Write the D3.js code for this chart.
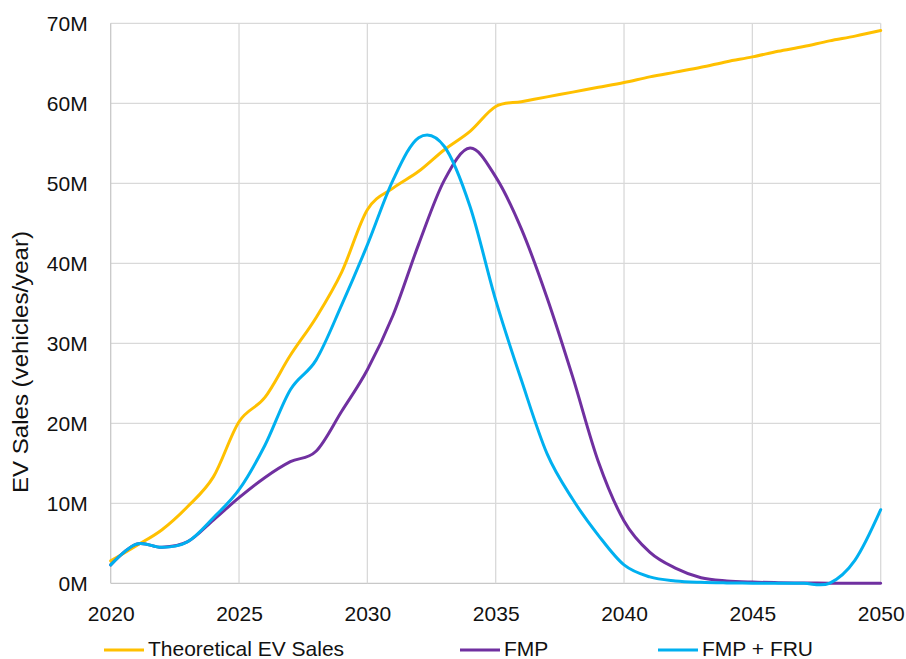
<!DOCTYPE html>
<html>
<head>
<meta charset="utf-8">
<script src="https://cdn.jsdelivr.net/npm/d3@7"></script>
<style>
  html, body { margin: 0; padding: 0; background: #fff; }
  svg { display: block; }
  text { font-family: "Liberation Sans", Arial, sans-serif; fill: #111; }
</style>
</head>
<body>
<svg id="chart" width="906" height="659"></svg>
<script>
const years = d3.range(2020, 2051);
const theoretical = [2.8, 4.7, 6.7, 9.6, 13.3, 20.2, 23.2, 28.5, 33.2, 38.9, 46.7, 49.4, 51.5, 54.2, 56.5, 59.6,
  60.2, 60.8, 61.4, 62.0, 62.6, 63.3, 63.9, 64.5, 65.2, 65.8, 66.5, 67.1, 67.8, 68.4, 69.1];
const fmp = [2.3, 4.9, 4.5, 5.2, 7.9, 10.7, 13.2, 15.2, 16.5, 21.5, 26.7, 33.5, 42.4, 50.4, 54.4, 50.8,
  44.3, 35.7, 25.8, 15.2, 7.8, 3.9, 1.9, 0.7, 0.3, 0.15, 0.08, 0.04, 0.02, 0.01, 0.0];
const fmpFru = [2.3, 4.9, 4.5, 5.2, 8.2, 11.7, 17.2, 24.2, 27.9, 34.8, 42.3, 50.4, 55.7, 54.6, 47.1, 35.4,
  25.4, 16.2, 10.5, 6.0, 2.3, 0.8, 0.3, 0.12, 0.05, 0.02, 0.01, 0.0, 0.0, 2.9, 9.2];
const seriesNames = ["Theoretical EV Sales", "FMP", "FMP + FRU"];
const seriesColors = ["#FFC000", "#7030A0", "#00B0F0"];
const yTicks = [0, 10, 20, 30, 40, 50, 60, 70];
const xTicks = [2020, 2025, 2030, 2035, 2040, 2045, 2050];
const yLabel = "EV Sales (vehicles/year)";

(function () {
const svg = d3.select("#chart");
const pL = 110.7, pR = 880.7, pT = 23.3, pB = 583.3;
const x = d3.scaleLinear().domain([2020, 2050]).range([pL, pR]);
const y = d3.scaleLinear().domain([0, 70]).range([pB, pT]);

// gridlines
const grid = svg.append("g");
grid.selectAll("line.h").data(yTicks).join("line")
  .attr("x1", pL).attr("x2", pR)
  .attr("y1", d => y(d)).attr("y2", d => y(d))
  .attr("stroke", d => d === 0 ? "#C8C8C8" : "#D9D9D9").attr("stroke-width", 1.3);
grid.selectAll("line.v").data(xTicks).join("line")
  .attr("x1", d => x(d)).attr("x2", d => x(d))
  .attr("y1", pT).attr("y2", pB)
  .attr("stroke", d => d === 2020 ? "#C8C8C8" : "#D9D9D9").attr("stroke-width", 1.3);

// axes (labels only)
const yAxis = d3.axisLeft(y).tickValues(yTicks).tickFormat(d => d + "M").tickSize(0).tickPadding(23);
const gy = svg.append("g").attr("transform", `translate(${pL},0)`).call(yAxis);
gy.select(".domain").remove();
gy.selectAll("text").attr("font-size", 21).attr("font-family", "Liberation Sans, Arial, sans-serif").attr("fill", "#111");

const xAxis = d3.axisBottom(x).tickValues(xTicks).tickFormat(d3.format("d")).tickSize(0).tickPadding(23);
const gx = svg.append("g").attr("transform", `translate(0,${pB})`).call(xAxis);
gx.select(".domain").remove();
gx.selectAll("text").attr("font-size", 21).attr("font-family", "Liberation Sans, Arial, sans-serif").attr("fill", "#111");

// y label
svg.append("text")
  .attr("transform", `translate(28,362) rotate(-90)`)
  .attr("text-anchor", "middle")
  .attr("font-size", 22)
  .attr("textLength", 262)
  .attr("lengthAdjust", "spacingAndGlyphs")
  .text(yLabel);

// lines
const line = d3.line().x((d, i) => x(years[i])).y(d => y(d)).curve(d3.curveCatmullRom.alpha(0));
const allSeries = [theoretical, fmp, fmpFru];
svg.append("g").selectAll("path").data(allSeries).join("path")
  .attr("d", d => line(d))
  .attr("fill", "none")
  .attr("stroke", (d, i) => seriesColors[i])
  .attr("stroke-width", 3)
  .attr("stroke-linejoin", "round")
  .attr("stroke-linecap", "round");

// legend
const legendX = [104, 460, 658];
const lg = svg.append("g");
seriesNames.forEach((name, i) => {
  lg.append("line").attr("x1", legendX[i]).attr("x2", legendX[i] + 40)
    .attr("y1", 650).attr("y2", 650)
    .attr("stroke", seriesColors[i]).attr("stroke-width", 3);
  lg.append("text").attr("x", legendX[i] + 44).attr("y", 656)
    .attr("font-size", 21).text(name);
});
})();
</script>
</body>
</html>
